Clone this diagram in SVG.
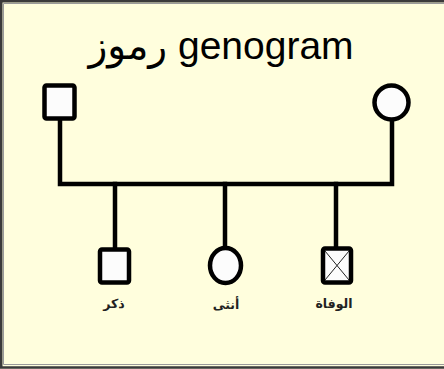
<svg xmlns="http://www.w3.org/2000/svg" width="444" height="369" viewBox="0 0 444 369">
<style>
.bg{fill:#FFFEDD}
.frame{fill:none;stroke:#3a3a3a;stroke-width:2.5}
.frame2{fill:none;stroke:#9a9a9a;stroke-width:1}
.sym{fill:#FCFCFC;stroke:#000;stroke-width:4.5}
.line{fill:none;stroke:#000;stroke-width:4.5;stroke-linecap:square}
.thin{stroke:#222;stroke-width:1}
.title{font-family:"Liberation Sans","DejaVu Sans",sans-serif;font-size:39px;fill:#000}
.lbl{font-family:"DejaVu Sans","Liberation Serif",serif;font-size:12.5px;font-weight:bold;fill:#222;text-anchor:middle}
</style>
<rect class="bg" x="0" y="0" width="444" height="369"/>
<path class="frame2" d="M444 3.5 H3.5 V364.5 H444"/>
<path class="frame" d="M444 1.25 H1.25 V367.5 H444"/>
<g id="title"><text class="title" x="221" y="59" text-anchor="middle">رموز genogram</text></g>
<g id="connectors">
<path class="line" d="M60 120 V184 H392 V122"/>
<path class="line" d="M115 184 V247"/>
<path class="line" d="M225 184 V246"/>
<path class="line" d="M336 184 V246"/>
</g>
<g id="father"><rect class="sym" x="44.5" y="85.5" width="30" height="33" rx="2"/></g>
<g id="mother"><circle class="sym" cx="391.5" cy="102.5" r="17"/></g>
<g id="male"><rect class="sym" x="100" y="249.5" width="29" height="33" rx="2"/><text class="lbl" x="114" y="308">ذكر</text></g>
<g id="female"><ellipse class="sym" cx="225.5" cy="265.5" rx="15.5" ry="17.5"/><text class="lbl" x="226" y="309">أنثى</text></g>
<g id="deceased"><rect class="sym" x="323" y="248.5" width="28" height="34" rx="2"/><path class="thin" d="M325 251 L349 280 M349 251 L325 280"/><text class="lbl" x="334" y="308">الوفاة</text></g>
</svg>
